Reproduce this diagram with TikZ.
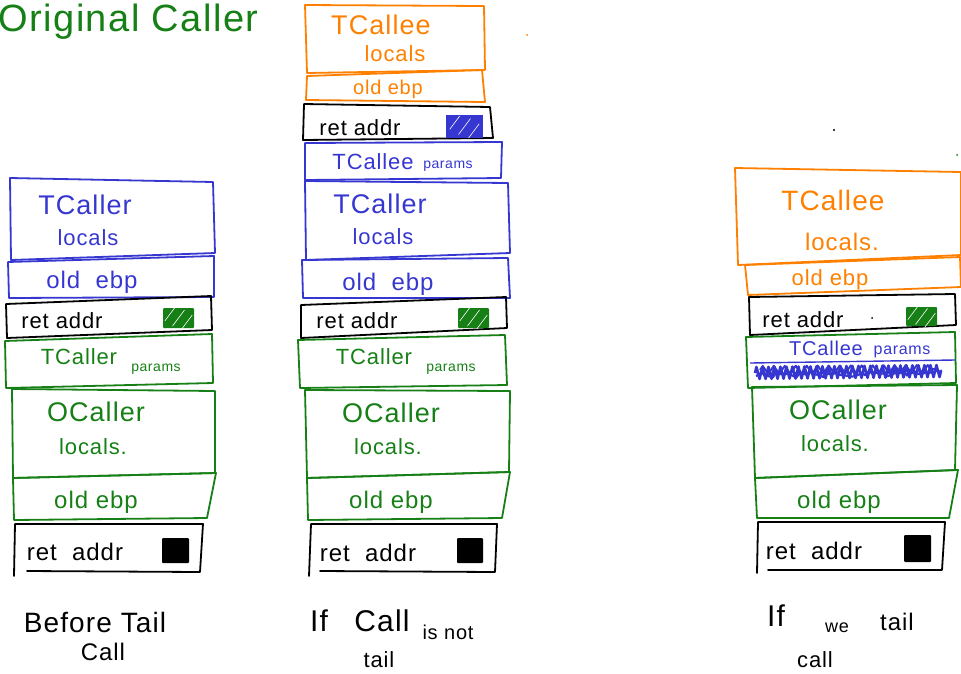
\documentclass[tikz,border=0pt]{standalone}
\usepackage{fontspec}
\setmainfont{Liberation Sans}[LetterSpace=4]
\usetikzlibrary{decorations.pathmorphing,calc}
\definecolor{pgreen}{RGB}{22,128,22}
\definecolor{pblue}{RGB}{54,54,208}
\definecolor{porange}{RGB}{255,128,0}
\newcommand\fsz[1]{\fontsize{#1}{#1}\selectfont}
% one hand-drawn stack slot: colour, then its four corners
\newcommand\stackbox[5]{\draw[slot,#1] (#2) -- (#3) -- (#4) -- (#5) -- cycle;}
% filled marker square on a return address, with white hatch strokes
\newcommand\marker[4]{%
  \fill[#1,rounded corners=1pt] (#2) rectangle (#3);
  \ifx#4y
  \begin{scope}
    \clip (#2) rectangle (#3);
    \path (#2) coordinate (m0) (#3) coordinate (m1);
    \foreach \k in {0.25,0.5,0.75}{
      \draw[white,line width=0.6pt] ($(m0)!\k!(m1)+(-6,8)$) -- ($(m0)!\k!(m1)+(6,-8)$);}
  \end{scope}
  \fi}
\begin{document}
\begin{tikzpicture}[x=1pt,y=-1pt,
  slot/.style={line width=1.8pt,line join=round,line cap=round},
  lbl/.style={inner sep=0pt,anchor=center}]
\useasboundingbox (0,0) rectangle (961,673);

% ---------- title ----------
\node[lbl,anchor=base west,text=pgreen] (title) at (-2,31) {\fsz{38}Original Caller};

% ---------- before the tail call ----------
\stackbox{pblue}{10,178}{213,182}{215,253}{11,260}
\stackbox{pblue}{8,262}{214,256}{214,297}{9,298}
\stackbox{black}{6,304}{211,296}{212,330}{7,338}
\stackbox{pgreen}{5,341}{212,334}{213,383}{6,388}
\stackbox{pgreen}{12,389}{215,391}{215,473}{13,478}
\stackbox{pgreen}{13,478}{216,473}{207,518}{14,520}
\draw[slot,black] (27,571) -- (200,572) -- (203,524) -- (15,524) -- (14,576);
\marker{pgreen}{163,308}{194,328}{y}
\marker{black}{162,538}{189,563}{n}

\node[lbl,text=pblue] (a1) at (85,205) {\fsz{27}TCaller};
\node[lbl,text=pblue] (a2) at (88,238) {\fsz{22}locals};
\node[lbl,text=pblue] (a3) at (92,282) {\fsz{24}old\ \ ebp};
\node[lbl] (a4) at (62,321) {\fsz{22}ret addr};
\node[lbl,text=pgreen] (a5) at (79,357) {\fsz{22}TCaller};
\node[lbl,text=pgreen] (a6) at (156,369) {\fsz{14}params};
\node[lbl,text=pgreen] (a7) at (96,412) {\fsz{27}OCaller};
\node[lbl,text=pgreen] (a8) at (93,447) {\fsz{22}locals.};
\node[lbl,text=pgreen] (a9) at (96,502) {\fsz{24}old ebp};
\node[lbl] (a10) at (75,552) {\fsz{24}ret\ \ addr};
\node[lbl] (a11) at (95,622) {\fsz{28}Before Tail};
\node[lbl] (a12) at (103,652) {\fsz{24}Call};

% ---------- call that is not a tail call ----------
\stackbox{porange}{305,5}{484,6}{485,70}{307,73}
\stackbox{porange}{307,76}{482,70}{485,102}{306,100}
\stackbox{black}{304,104}{490,107}{493,138}{303,140}
\stackbox{pblue}{305,143}{502,142}{501,178}{305,180}
\stackbox{pblue}{305,181}{508,183}{510,253}{306,260}
\stackbox{pblue}{302,260}{508,258}{510,298}{303,298}
\stackbox{black}{301,305}{506,297}{507,328}{301,338}
\stackbox{pgreen}{298,340}{505,335}{507,385}{300,388}
\stackbox{pgreen}{305,390}{510,391}{509,472}{307,478}
\stackbox{pgreen}{307,478}{510,472}{502,518}{308,520}
\draw[slot,black] (320,571) -- (495,572) -- (497,524) -- (311,524) -- (309,576);
\draw[pblue,line width=1.4pt] (447,116) rectangle (482,137);
\marker{pblue}{447,116}{482,137}{y}
\marker{pgreen}{458,308}{489,328}{y}
\marker{black}{457,538}{483,563}{n}
\fill[porange] (527,35) circle (1pt);

\node[lbl,text=porange] (b1) at (381,25) {\fsz{27}TCallee};
\node[lbl,text=porange] (b2) at (395,54) {\fsz{22}locals};
\node[lbl,text=porange] (b3) at (388,89) {\fsz{20}old ebp};
\node[lbl] (b4) at (360,128) {\fsz{22}ret addr};
\node[lbl,text=pblue] (b5) at (373,162) {\fsz{22}TCallee};
\node[lbl,text=pblue] (b6) at (448,166) {\fsz{14}params};
\node[lbl,text=pblue] (b7) at (380,204) {\fsz{27}TCaller};
\node[lbl,text=pblue] (b8) at (383,237) {\fsz{22}locals};
\node[lbl,text=pblue] (b9) at (388,284) {\fsz{24}old\ \ ebp};
\node[lbl] (b10) at (357,321) {\fsz{22}ret addr};
\node[lbl,text=pgreen] (b11) at (374,357) {\fsz{22}TCaller};
\node[lbl,text=pgreen] (b12) at (451,369) {\fsz{14}params};
\node[lbl,text=pgreen] (b13) at (391,413) {\fsz{27}OCaller};
\node[lbl,text=pgreen] (b14) at (388,447) {\fsz{22}locals.};
\node[lbl,text=pgreen] (b15) at (391,502) {\fsz{24}old ebp};
\node[lbl] (b16) at (368,553) {\fsz{24}ret\ \ addr};
\node[lbl] (b17) at (319,621) {\fsz{30}If};
\node[lbl] (b18) at (382,621) {\fsz{30}Call};
\node[lbl] (b19) at (448,632) {\fsz{20}is not};
\node[lbl] (b20) at (379,660) {\fsz{22}tail};

% ---------- tail call ----------
\stackbox{porange}{735,168}{961,172}{961,255}{738,265}
\stackbox{porange}{745,265}{960,257}{961,287}{748,295}
\stackbox{black}{749,297}{955,294}{956,325}{750,335}
\stackbox{pgreen}{746,337}{955,332}{956,383}{748,388}
\stackbox{pgreen}{752,387}{957,385}{955,470}{755,478}
\stackbox{pgreen}{755,478}{958,470}{949,518}{757,518}
\draw[slot,black] (768,570) -- (942,570) -- (945,522) -- (758,522) -- (757,573);
\draw[pblue,line width=1.4pt] (750,363) -- (955,360);
% scribbled-out parameter slot
\draw[pblue,line width=2.6pt,line join=round,decorate,decoration={zigzag,segment length=6pt,amplitude=6pt}]
  (755,373) -- (942,371);
\draw[pblue,line width=2.2pt,line join=round,decorate,decoration={random steps,segment length=5pt,amplitude=3pt}]
  (756,376) -- (940,373);
\draw[pblue,line width=2pt,line join=round,decorate,decoration={zigzag,segment length=11pt,amplitude=4pt}]
  (760,370) -- (935,369);
\marker{pgreen}{906,307}{937,326}{y}
\marker{black}{904,535}{931,562}{n}
\fill (834,130) circle (1.2pt);
\fill[pgreen] (957,155) circle (1pt);
\fill (872,318) circle (1pt);

\node[lbl,text=porange] (c1) at (833,200) {\fsz{28}TCallee};
\node[lbl,text=porange] (c2) at (842,242) {\fsz{24}locals.};
\node[lbl,text=porange] (c3) at (830,280) {\fsz{22}old ebp};
\node[lbl] (c4) at (803,320) {\fsz{22}ret addr};
\node[lbl,text=pblue] (c5) at (826,348) {\fsz{20}TCallee};
\node[lbl,text=pblue] (c6) at (902,352) {\fsz{16}params};
\node[lbl,text=pgreen] (c7) at (838,410) {\fsz{27}OCaller};
\node[lbl,text=pgreen] (c8) at (835,444) {\fsz{22}locals.};
\node[lbl,text=pgreen] (c9) at (839,502) {\fsz{24}old ebp};
\node[lbl] (c10) at (814,551) {\fsz{24}ret\ \ addr};
\node[lbl] (c11) at (776,616) {\fsz{30}If};
\node[lbl] (c12) at (837,628) {\fsz{18}we};
\node[lbl] (c13) at (897,622) {\fsz{24}tail};
\node[lbl] (c14) at (815,660) {\fsz{22}call};
\end{tikzpicture}
\end{document}
